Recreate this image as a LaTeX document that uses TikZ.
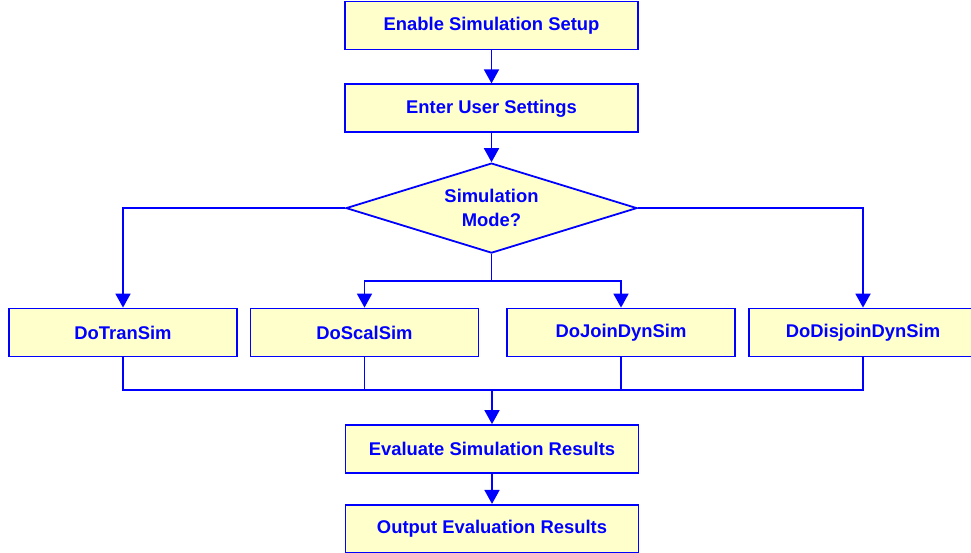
\documentclass[tikz,border=0pt]{standalone}
\usepackage{fontspec}
\setmainfont{Liberation Sans}
\usetikzlibrary{arrows.meta,positioning,shapes.geometric}

\definecolor{boxfill}{RGB}{255,255,204}
\definecolor{flowblue}{RGB}{0,0,255}

\begin{document}
\begin{tikzpicture}[
  box/.style={draw=flowblue, fill=boxfill, line width=1.8pt, text=flowblue, font=\fontsize{18.4}{22}\selectfont\bfseries, minimum width=293pt, minimum height=48pt, inner sep=0pt},
  simbox/.style={box, minimum width=228pt},
  decision/.style={draw=flowblue, fill=boxfill, line width=1.8pt, text=flowblue, font=\fontsize{18.4}{24}\selectfont\bfseries, diamond, aspect=3.2, inner sep=0pt, minimum width=291pt, minimum height=90pt, align=center},
  line/.style={draw=flowblue, line width=1.8pt},
  arr/.style={line, -{Triangle[length=14pt, width=15pt]}}
]
\clip (0,0) rectangle (971pt,-553pt);
\node[box] (setup) at (491.5pt,-25.5pt) {Enable Simulation Setup};
\node[box, below=33pt of setup] (settings) {Enter User Settings};
\node[decision, below=29pt of settings] (mode) {Simulation\\Mode?};
\node[simbox] (tran) at (123pt,-332.5pt) {DoTranSim};
\node[simbox] (scal) at (364.5pt,-332.5pt) {DoScalSim};
\node[simbox] (join) at (621pt,-332.5pt) {DoJoinDynSim};
\node[simbox] (disjoin) at (863pt,-332.5pt) {DoDisjoinDynSim};
\node[box] (eval) at (492pt,-449pt) {Evaluate Simulation Results};
\node[box, below=30pt of eval] (output) {Output Evaluation Results};
\coordinate (fork) at (mode.south |- 0,-281pt);
\coordinate (merge) at (eval.north |- 0,-390pt);
\draw[arr] (setup) -- (settings);
\draw[arr] (settings) -- (mode);
\draw[arr] (mode.west) -| (tran.north);
\draw[arr] (mode.east) -| (disjoin.north);
\draw[line] (mode.south) -- (fork);
\draw[arr] (fork) -| (scal.north);
\draw[arr] (fork) -| (join.north);
\draw[line] (tran.south) |- (merge) -| (disjoin.south);
\draw[line] (scal.south) -- (scal.south |- merge);
\draw[line] (join.south) -- (join.south |- merge);
\draw[arr] (merge) -- (eval);
\draw[arr] (eval) -- (output);
\end{tikzpicture}
\end{document}
